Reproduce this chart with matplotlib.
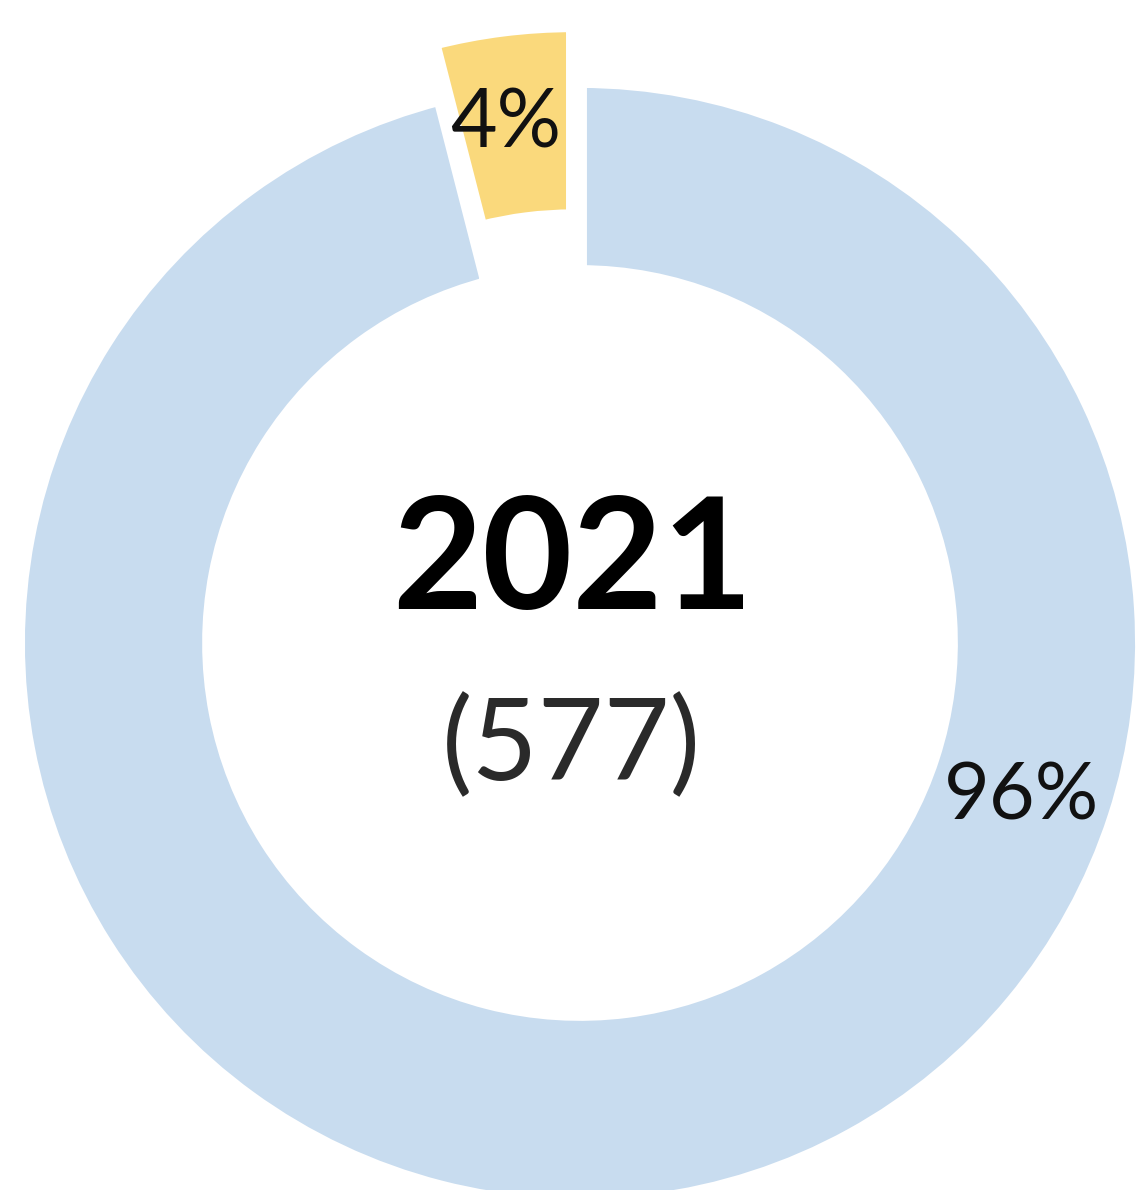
import matplotlib.pyplot as plt

# shares of the 577 cases in 2021
labels = ['4%', '96%']
shares = [4, 96]
colors = ['#FAD97C', '#C8DCEF']
year = '2021'
total = '(577)'

W, H = 1141, 1190
cx, cy, R = 580, 643, 562  # ring centre and radius in pixels


def px(x, y):
    # pixel position -> data position (radius 1 = outer ring)
    return (x - cx) / R, (cy - y) / R


fig = plt.figure(figsize=(W / 100, H / 100), dpi=100)
ax = fig.add_axes([0, 0, 1, 1])

ax.pie(shares, colors=colors, startangle=90, counterclock=True,
       explode=[0.1, 0], radius=1,
       wedgeprops=dict(width=0.34, edgecolor='white', linewidth=10))

ax.set_xlim(-cx / R, (W - cx) / R)
ax.set_ylim(-(H - cy) / R, cy / R)
ax.set_aspect('equal')
ax.axis('off')

ax.text(*px(506, 124), labels[0], fontsize=58, family='Lato',
        ha='center', va='center', color='#111111')
ax.text(*px(1021, 797), labels[1], fontsize=57, family='Lato',
        ha='center', va='center', color='#111111')

ax.text(*px(573, 565), year, fontsize=112, family='Lato', fontweight='bold',
        ha='center', va='center', color='black')
ax.text(*px(571, 747), total, fontsize=82, family='Lato',
        ha='center', va='center', color='#2a2a2a')

fig.savefig('out.png', dpi=100, facecolor='white')
